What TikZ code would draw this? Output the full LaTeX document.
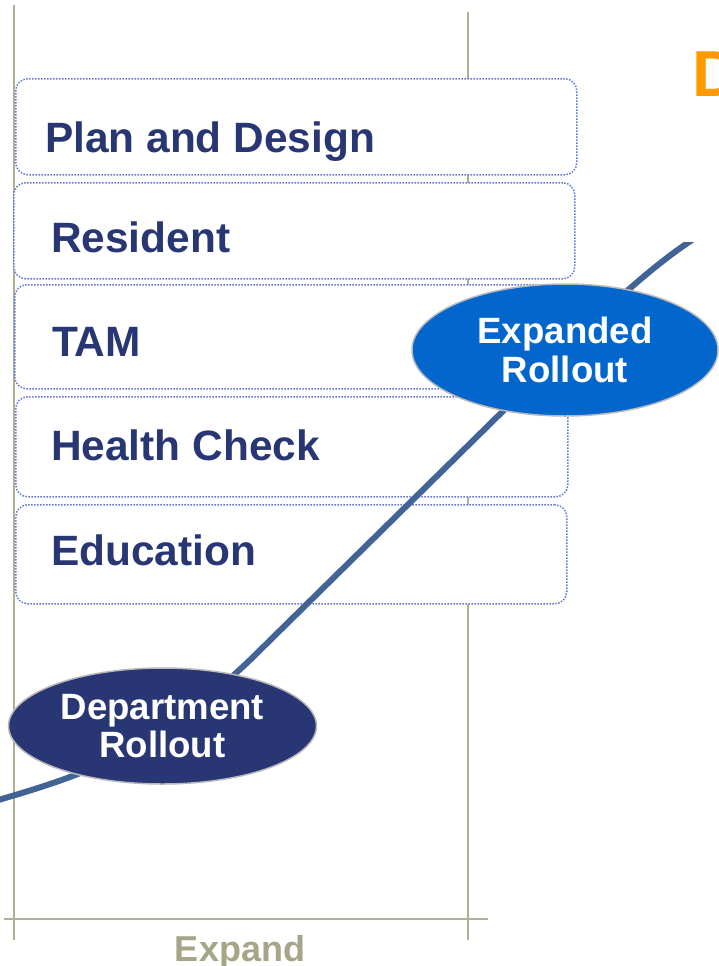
\documentclass[tikz,border=0pt]{standalone}
\usepackage{fontspec}
\setmainfont{Liberation Sans}
\usetikzlibrary{shapes.geometric}
\definecolor{navy}{RGB}{40,54,115}
\definecolor{blueell}{RGB}{2,102,204}
\definecolor{axis}{RGB}{176,176,146}
\definecolor{axistext}{RGB}{165,165,135}
\definecolor{curvecol}{RGB}{66,99,150}
\definecolor{boxline}{RGB}{100,120,220}
\definecolor{orangeD}{RGB}{255,153,0}
\begin{document}
\begin{tikzpicture}[x=1pt,y=-1pt,
  axisline/.style={draw=axis,line width=1.4pt},
  stagebox/.style={rectangle,draw=boxline,fill=white,line width=1.5pt,dash pattern=on 1.5pt off 1.5pt,rounded corners=12pt,inner sep=0pt,anchor=north west},
  stagetext/.style={anchor=base west,inner sep=0pt,text=navy,font=\fontsize{42.4}{50}\selectfont\bfseries},
  phase/.style={ellipse,draw=gray!55,line width=1.5pt,inner sep=0pt,text=white,align=center,font=\fontsize{36.6}{38.5}\selectfont\bfseries},
  curveline/.style={draw=curvecol,line width=6pt}
]
\useasboundingbox (0,0) rectangle (719,966);
\clip (0,0) rectangle (719,966);
% axes
\coordinate (ltop) at (14,5);
\coordinate (lbot) at (14,940);
\coordinate (rtop) at (468,12);
\coordinate (rbot) at (468,940);
\coordinate (hl) at (4,919);
\coordinate (hr) at (488,919);
\draw[axisline] (ltop) -- (lbot);
\draw[axisline] (rtop) -- (rbot);
\draw[axisline] (hl) -- (hr);
% stage boxes
\node[stagebox,minimum width=561pt,minimum height=96pt] (b1) at (15,78) {};
\node[stagebox,minimum width=561pt,minimum height=96pt] (b2) at (13,182) {};
\node[stagebox,minimum width=558pt,minimum height=104pt] (b3) at (14,284) {};
\node[stagebox,minimum width=552pt,minimum height=100pt] (b4) at (15,396) {};
\node[stagebox,minimum width=551pt,minimum height=99pt] (b5) at (15,504) {};
\node[stagetext] (t1) at (45,152) {Plan and Design};
\node[stagetext] (t2) at (51,252) {Resident};
\node[stagetext] (t3) at (52,356) {TAM};
\node[stagetext] (t4) at (51,460) {Health Check};
\node[stagetext] (t5) at (51,565) {Education};
% curve
\coordinate (cstart) at (-5,801);
\coordinate (cend) at (692,240);
\begin{scope}
\clip (0,242) rectangle (719,966);
\draw[curveline] (cstart) .. controls (80,776) and (150,755) .. (250,660) -- (560,355) .. controls (610,305) and (650,268) .. (cend);
\end{scope}
% phases
\node[phase,fill=navy,minimum width=308pt,minimum height=116pt] (dept) at (162.5,726) {Department\\Rollout};
\node[phase,fill=blueell,minimum width=306pt,minimum height=132pt] (exp) at (565,350) {Expanded\\Rollout};
% labels
\node[anchor=base,inner sep=0pt,text=axistext,font=\fontsize{36}{40}\selectfont\bfseries] (xlabel) at (240,961) {Expand};
\node[anchor=base west,inner sep=0pt,text=orangeD,font=\fontsize{65}{70}\selectfont\bfseries] (dtitle) at (692,96.7) {D};
\end{tikzpicture}
\end{document}
